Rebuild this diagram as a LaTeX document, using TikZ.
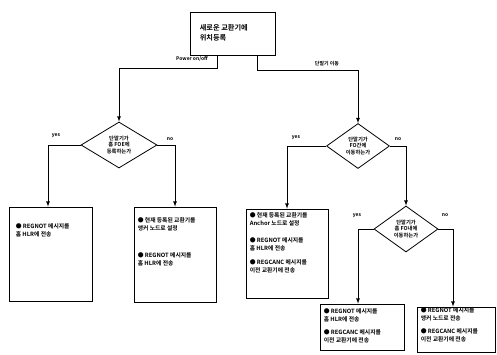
\documentclass[tikz,border=0pt]{standalone}
\usepackage{fontspec}
\setmainfont{Noto Sans CJK KR}[BoldFont={Noto Sans CJK KR Bold}]
\usetikzlibrary{arrows,positioning,shapes}

\begin{document}
\begin{tikzpicture}[x=1pt,y=-1pt]
\tikzstyle{box}=[draw=black,thick,inner sep=0pt]
\tikzstyle{note}=[align=left,inner sep=0pt,font=\fontsize{5.8}{7.5}\selectfont\bfseries]
\tikzstyle{question}=[draw=black,thick,diamond,inner sep=0pt,align=center,font=\fontsize{5.3}{6.8}\selectfont\bfseries]
\tikzstyle{answer}=[inner sep=0pt,font=\fontsize{5}{6}\selectfont\bfseries]
\tikzstyle{arrow}=[thick,->,>=latex]
\useasboundingbox (0,0) rectangle (497,354);
% start
\node [box,minimum width=85pt,minimum height=43pt] at (232.5,33.5) (start) {};
\node [note,font=\fontsize{7.2}{10}\selectfont\bfseries,below right=13pt and 10pt of start.north west] (startText) {새로운 교환기에\\위치등록};
% questions
\node [question,minimum width=76pt,minimum height=46pt] at (119,145) (q1) {단말기가\\홈 FOE에\\등록하는가};
\node [question,minimum width=63pt,minimum height=45pt] at (358,146) (q2) {단말기가\\FO간에\\이동하는가};
\node [question,minimum width=64pt,minimum height=46pt] at (406,229) (q3) {단말기가\\홈 FO내에\\이동하는가};
% boxes
\node [box,minimum width=83pt,minimum height=94pt] at (50.5,254) (bA) {};
\node [note,below right=17pt and 7pt of bA.north west] (bAText) {● REGNOT 메시지를\\홈 HLR에 전송};
\node [box,minimum width=82pt,minimum height=95pt] at (175,254.5) (bB) {};
\node [note,below right=11pt and 4pt of bB.north west] (bBText) {● 현재 등록된 교환기를\\앵커 노드로 설정\\[20pt]● REGNOT 메시지를\\홈 HLR에 전송};
\node [box,minimum width=82pt,minimum height=89pt] at (287,253.5) (bC) {};
\node [note,below right=4pt and 4pt of bC.north west] (bCText) {● 현재 등록된 교환기를\\Anchor 노드로 설정\\[10pt]● REGNOT 메시지를\\홈 HLR에 전송\\[7pt]● REGCANC 메시지를\\이전 교환기에 전송};
\node [box,minimum width=84pt,minimum height=46pt] at (362,327) (bD) {};
\node [note,below right=5pt and 4pt of bD.north west] (bDText) {● REGNOT 메시지를\\홈 HLR에 전송\\[6pt]● REGCANC 메시지를\\이전 교환기에 전송};
\node [box,minimum width=78pt,minimum height=45pt] at (456,329.5) (bE) {};
\node [note,below right=1pt and 4pt of bE.north west] (bEText) {● REGNOT 메시지를\\앵커 노드로 전송\\[6pt]● REGCANC 메시지를\\이전 교환기에 전송};
% connectors
\draw [arrow] ([xshift=-15.5pt]start.south) -- ++(0,13) -| (q1.north);
\draw [arrow] ([xshift=24.5pt]start.south) -- ++(0,15) -| (q2.north);
\draw [arrow] (q1.west) -| ([xshift=-2.5pt]bA.north);
\draw [arrow] (q1.east) -| (bB.north);
\draw [arrow] (q2.west) -| (bC.north);
\draw [arrow] (q2.east) -| (q3.north);
\draw [arrow] (q3.west) -| ([xshift=-4pt]bD.north);
\draw [arrow] (q3.east) -| ([xshift=-3pt]bE.north);
% labels
\node [answer] at (192,59) (power) {Power on/off};
\node [answer] at (327,64) (move) {단말기 이동};
\node [answer] at (56,136) (yes1) {yes};
\node [answer] at (170,139) (no1) {no};
\node [answer] at (296,138) (yes2) {yes};
\node [answer] at (398,139) (no2) {no};
\node [answer] at (357,216) (yes3) {yes};
\node [answer] at (445,215) (no3) {no};
\end{tikzpicture}
\end{document}
